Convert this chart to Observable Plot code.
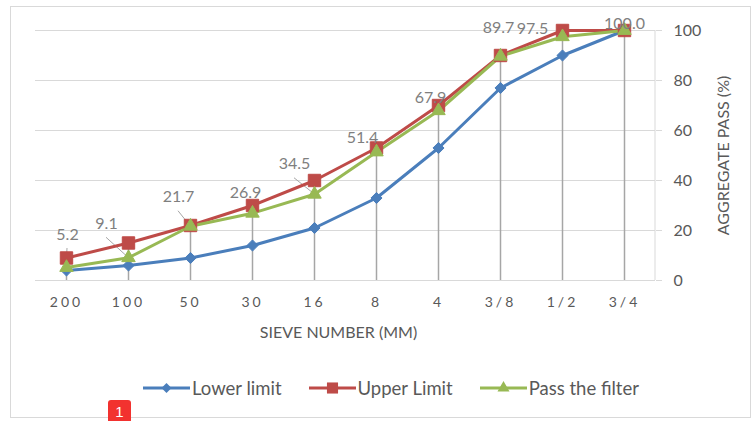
<!DOCTYPE html>
<html><head><meta charset="utf-8">
<script src="https://cdn.jsdelivr.net/npm/d3@7"></script>
<script src="https://cdn.jsdelivr.net/npm/@observablehq/plot@0.6"></script>
<style>
body{margin:0;background:#fff;font-family:Lato,sans-serif;}
#wrap{position:relative;width:752px;height:421px;overflow:hidden;background:#fff}
#chart{position:absolute;left:0;top:0}
#border{position:absolute;left:10px;top:6px;width:739px;height:410px;border:1px solid #d9d9d9;pointer-events:none}
#legend{position:absolute;left:143px;top:377px;height:22px;display:flex;align-items:center;font-size:18.5px;color:#595959;white-space:nowrap}
.item{display:flex;align-items:center;margin-right:27px}
.item svg{margin-right:2px}
#badge{position:absolute;left:108px;top:400px;width:23px;height:23px;background:#f2322f;border-radius:3px;color:#fff;font:15px "Liberation Sans",Arial,sans-serif;text-align:center;line-height:23px}
#chart g[aria-label="x-axis tick label"] text{letter-spacing:3px}
</style></head>
<body><div id="wrap"><div id="chart"></div><div id="legend"></div><div id="border"></div><div id="badge">1</div></div>
<script>
// ---- data ----
const sieves = ["200","100","50","30","16","8","4","3/8","1/2","3/4"];
const lowerLimit = [4,6,9,14,21,33,53,77,90,100];
const upperLimit = [9,15,22,30,40,53,70,90,100,100];
const passFilter = [5.2,9.1,21.7,26.9,34.5,51.4,67.9,89.7,97.5,100.0];
const yTicks = [0,20,40,60,80,100];
const seriesNames = ["Lower limit","Upper Limit","Pass the filter"];
const xTitle = "SIEVE NUMBER (MM)";
const yTitle = "AGGREGATE PASS (%)";

// ---- styling / label placement (not data) ----
const colors = ["#4a7ebb","#be4b48","#98b954"];
const symbols = ["diamond2","square","triangle"];
const symbolR = [5,7,5];
const labelOffsets = [[1,-33],[-22,-34],[-12,-29],[-7,-20],[-20,-30],[-14,-14.5],[-8,-13],[-2,-28],[-30,-8],[0,-7]];
const leader = [true,true,true,false,true,false,false,false,false,false];

const rows = sieves.map((s,i)=>({s, lower:lowerLimit[i], upper:upperLimit[i], pass:passFilter[i],
  top:Math.max(lowerLimit[i],upperLimit[i],passFilter[i])}));
const series = [lowerLimit, upperLimit, passFilter].map((vals,k)=>vals.map((v,i)=>({s:sieves[i], v, k})));

function extras(index, scales, values, dims) {
  const g = d3.create("svg:g");
  const x = scales.x, y = scales.y;
  const right = dims.width - dims.marginRight;
  g.append("line").attr("x1",right).attr("x2",right)
    .attr("y1",dims.marginTop).attr("y2",dims.height-dims.marginBottom)
    .attr("stroke","#d9d9d9");
  rows.forEach((r,i)=>{
    if(!leader[i]) return;
    const px = x(r.s), py = y(r.pass);
    const lx = px + labelOffsets[i][0], ly = py + labelOffsets[i][1] + 14;
    g.append("line").attr("x1",lx).attr("y1",ly).attr("x2",px).attr("y2",py)
      .attr("stroke","#a6a6a6").attr("stroke-width",1);
  });
  return g.node();
}

const labelMarks = rows.map((r,i)=>Plot.text([r], {x:"s", y:"pass", text:d=>d.pass.toFixed(1),
  dx:labelOffsets[i][0], dy:labelOffsets[i][1], fill:"#7f7f7f", fontSize:16, lineAnchor:"middle", textAnchor:"middle"}));

const chart = Plot.plot({
  width:752, height:421,
  marginLeft:35, marginRight:97, marginTop:30, marginBottom:141,
  style:{fontFamily:"Lato, sans-serif", fontSize:"16px", background:"transparent", overflow:"visible"},
  x:{type:"point", domain:sieves, padding:0.5},
  y:{domain:[0,100]},
  marks:[
    Plot.gridY(yTicks, {stroke:"#d9d9d9", strokeOpacity:1}),
    Plot.ruleY([0], {stroke:"#d9d9d9"}),
    Plot.ruleX(rows, {x:"s", y1:0, y2:"top", stroke:"#a6a6a6", strokeWidth:1.5}),
    extras,
    ...series.map((data,k)=>Plot.line(data, {x:"s", y:"v", stroke:colors[k], strokeWidth:3})),
    ...series.map((data,k)=>Plot.dot(data, {x:"s", y:"v", symbol:()=>symbols[k], r:symbolR[k], fill:colors[k], stroke:colors[k], strokeWidth:1})),
    ...labelMarks,
    Plot.axisX({tickSize:0, tickPadding:17, fontSize:14, fill:"#595959", label:null}),
    Plot.axisY(yTicks, {anchor:"right", tickSize:6, tickPadding:12, fontSize:16, fill:"#595959", stroke:"#d9d9d9", label:null}),
    Plot.text([xTitle], {frameAnchor:"bottom", dy:52, dx:-7, lineAnchor:"middle", fontSize:16, fill:"#595959"}),
    Plot.text([yTitle], {frameAnchor:"right", dx:68, rotate:-90, lineAnchor:"middle", textAnchor:"middle", fontSize:16, fill:"#595959"})
  ]
});
document.getElementById("chart").appendChild(chart);

// legend
const leg = d3.select("#legend");
seriesNames.forEach((name,k)=>{
  const it = leg.append("div").attr("class","item");
  const svg = it.append("svg").attr("width",47).attr("height",16);
  svg.append("line").attr("x1",0).attr("x2",47).attr("y1",8).attr("y2",8).attr("stroke",colors[k]).attr("stroke-width",3);
  const sym = [d3.symbolDiamond2, d3.symbolSquare, d3.symbolTriangle][k];
  svg.append("path").attr("transform","translate(23.5,8)")
    .attr("d", d3.symbol(sym, Math.PI*symbolR[k]*symbolR[k]*0.8)()).attr("fill",colors[k]);
  it.append("span").text(name);
});
</script>
</body></html>
